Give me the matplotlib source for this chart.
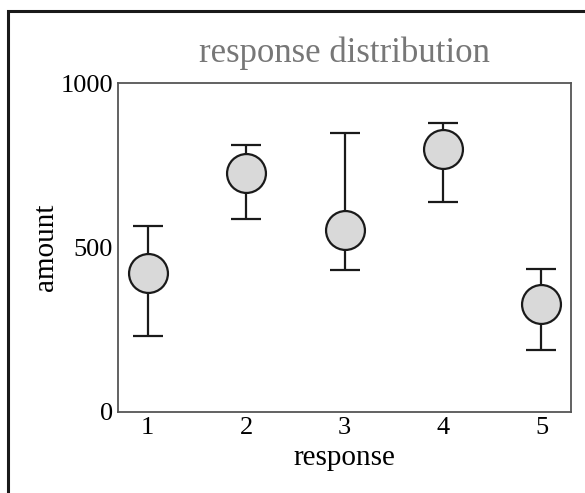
import numpy as np
import matplotlib.pyplot as plt
from matplotlib.patches import Rectangle

plt.rcParams['font.family'] = ['Liberation Serif', 'DejaVu Serif']

# values
responses = [1, 2, 3, 4, 5]
means = [422, 727, 553, 799, 328]
upper = [565, 811, 847, 878, 434]
lower = [231, 587, 432, 638, 188]

means_arr = np.array(means)
yerr = [means_arr - np.array(lower), np.array(upper) - means_arr]

fig = plt.figure(figsize=(5.85, 4.93), dpi=100)
ax = fig.add_axes([118 / 585, 81 / 493, (571 - 118) / 585, (412 - 83) / 493])

ax.errorbar(responses, means, yerr=yerr, fmt='o', color='black',
            ecolor='#1a1a1a', elinewidth=1.6, capsize=11, capthick=1.6,
            markersize=28, markerfacecolor='#d9d9d9', markeredgecolor='#1a1a1a',
            markeredgewidth=1.6)

ax.set_xlim(0.7, 5.3)
ax.set_ylim(0, 1000)
ax.set_xticks(responses)
ax.set_yticks([0, 500, 1000])
ax.tick_params(length=0, labelsize=19, pad=3.5)
for s in ax.spines.values():
    s.set_color('#555555')
    s.set_linewidth(1.3)

ax.set_xlabel('response', fontsize=21)
ax.xaxis.set_label_coords(0.5, -0.10)
ax.set_ylabel('amount', fontsize=21)
ax.yaxis.set_label_coords(-0.13, 0.5)

fig.text((118 + 571) / 2 / 585, 1 - 62 / 493, 'response distribution',
         fontsize=25, color='#777777', ha='center', va='baseline')

# figure frame (left and top edges visible)
fig.patches.append(Rectangle((8 / 585, -0.1), 1.2, 1 - 11 / 493 + 0.1,
                             transform=fig.transFigure, fill=False,
                             edgecolor='#1a1a1a', linewidth=2.2))

fig.savefig('out.png', dpi=100)
